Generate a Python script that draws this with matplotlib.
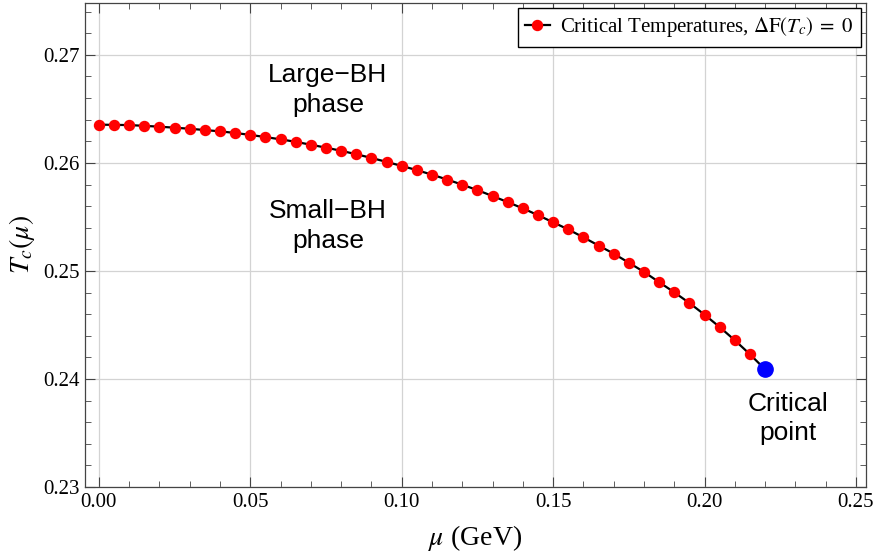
import numpy as np
import matplotlib.pyplot as plt
from matplotlib.ticker import MultipleLocator

# critical temperature curve
mu = [0.000, 0.005, 0.010, 0.015, 0.020, 0.025, 0.030, 0.035, 0.040, 0.045,
      0.050, 0.055, 0.060, 0.065, 0.070, 0.075, 0.080, 0.085, 0.090, 0.095,
      0.100, 0.105, 0.110, 0.115, 0.120, 0.125, 0.130, 0.135, 0.140, 0.145,
      0.150, 0.155, 0.160, 0.165, 0.170, 0.175, 0.180, 0.185, 0.190, 0.195,
      0.200, 0.205, 0.210, 0.215]
tc = [0.26354, 0.26352, 0.26350, 0.26343, 0.26335, 0.26326, 0.26316, 0.26304,
      0.26292, 0.26277, 0.26259, 0.26239, 0.26218, 0.26195, 0.26168, 0.26141,
      0.26112, 0.26080, 0.26046, 0.26009, 0.25972, 0.25933, 0.25891, 0.25846,
      0.25798, 0.25748, 0.25693, 0.25637, 0.25579, 0.25516, 0.25450, 0.25384,
      0.25311, 0.25235, 0.25160, 0.25076, 0.24991, 0.24896, 0.24802, 0.24703,
      0.24595, 0.24480, 0.24358, 0.24228]
mu_crit = 0.22
tc_crit = 0.24088

plt.rcParams['mathtext.fontset'] = 'stix'
serif = 'Liberation Serif'
sans = 'Liberation Sans'

fig = plt.figure(figsize=(8.86, 5.55), dpi=100)
ax = fig.add_axes([0.0959, 0.1225, 0.8815, 0.8721])

ax.plot(mu + [mu_crit], tc + [tc_crit], color='black', lw=1.6, zorder=3)
ax.plot(mu, tc, 'o', color='red', ms=7.2, zorder=4)
ax.plot([mu_crit], [tc_crit], 'o', color='blue', ms=11, zorder=5)

# legend proxy: line with red dot
ax.plot([], [], '-o', color='black', mfc='red', mec='red', ms=7.2, lw=1.6,
        label=r'Critical Temperatures, $\Delta\mathrm{F}(T_c)\;=\;0$')
h, l = ax.get_legend_handles_labels()
leg = ax.legend(h[-1:], l[-1:], loc='upper right', handlelength=1.2,
                fancybox=False, edgecolor='black', framealpha=1,
                prop={'family': serif, 'size': 15}, borderaxespad=0.25,
                handletextpad=0.5, borderpad=0.35)
leg.get_frame().set_linewidth(1.0)

ax.text(0.0756, 0.26672, 'Large\u2212BH\nphase', ha='center', va='center',
        fontsize=19, family=sans, linespacing=1.3)
ax.text(0.0756, 0.25419, 'Small\u2212BH\nphase', ha='center', va='center',
        fontsize=19, family=sans, linespacing=1.3)
ax.text(0.2276, 0.23633, 'Critical\npoint', ha='center', va='center',
        fontsize=19, family=sans, linespacing=1.3)

ax.set_xlim(-0.0046, 0.2533)
ax.set_ylim(0.23, 0.2748)
ax.xaxis.set_major_locator(MultipleLocator(0.05))
ax.xaxis.set_minor_locator(MultipleLocator(0.01))
ax.yaxis.set_major_locator(MultipleLocator(0.01))
ax.yaxis.set_minor_locator(MultipleLocator(0.002))
ax.xaxis.set_major_formatter(plt.FuncFormatter(lambda v, p: f'{v:.2f}'))
ax.yaxis.set_major_formatter(plt.FuncFormatter(lambda v, p: f'{v:.2f}'))

ax.tick_params(which='both', direction='in', top=True, right=True,
               labelsize=15, color='#444444', pad=4)
ax.tick_params(which='major', length=7, width=0.8)
ax.tick_params(which='minor', length=4, width=0.6)
for lab in ax.get_xticklabels() + ax.get_yticklabels():
    lab.set_family(serif)

ax.grid(True, which='major', color='#d3d3d3', lw=0.9)
ax.set_axisbelow(True)
for s in ax.spines.values():
    s.set_color('#444444')
    s.set_linewidth(0.9)

ax.set_xlabel(r'$\mu$ (GeV)', fontsize=20, family=serif, labelpad=8)
ax.set_ylabel(r'$T_c(\mu)$', fontsize=20, family=serif)
ax.yaxis.set_label_coords(-0.061, 0.5)

fig.savefig('out.png', dpi=100)
